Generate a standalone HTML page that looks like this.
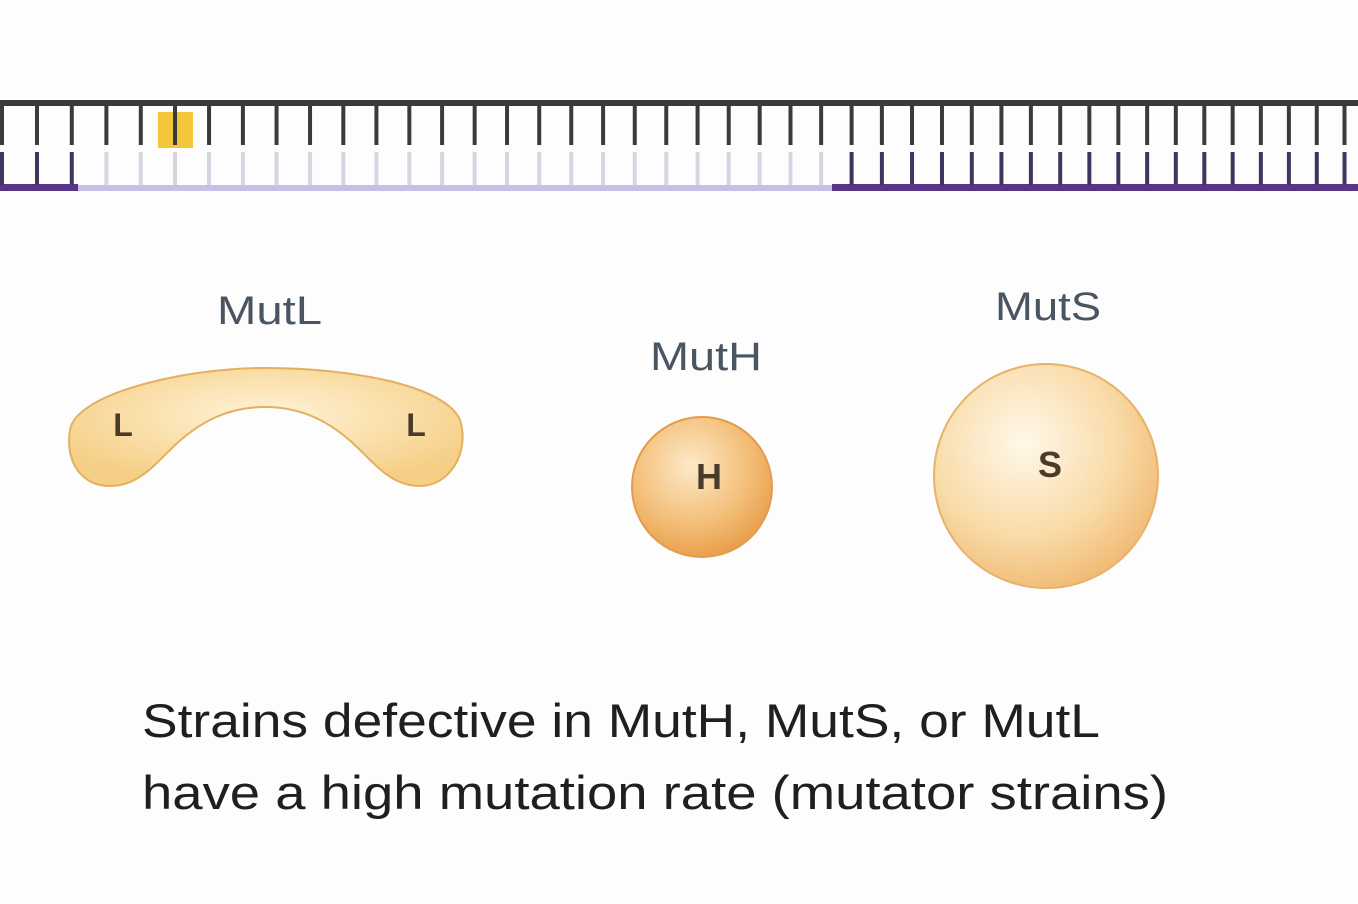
<!DOCTYPE html>
<html><head><meta charset="utf-8"><style>
body{margin:0;background:#fdfdfd;}
svg{display:block;}
text{font-family:"Liberation Sans",sans-serif;}
</style></head><body>
<svg width="1358" height="904" viewBox="0 0 1358 904">
<defs>
<radialGradient id="gL" cx="0.5" cy="0.4" r="0.6"><stop offset="0" stop-color="#fff3d8"/><stop offset="1" stop-color="#f6cf86"/></radialGradient>
<radialGradient id="gH" cx="0.42" cy="0.35" r="0.7"><stop offset="0" stop-color="#fde9c8"/><stop offset="0.6" stop-color="#f3be78"/><stop offset="1" stop-color="#e79a45"/></radialGradient>
<radialGradient id="gS" cx="0.4" cy="0.35" r="0.7"><stop offset="0" stop-color="#fff8ea"/><stop offset="0.6" stop-color="#f9dba8"/><stop offset="1" stop-color="#f0b870"/></radialGradient>
</defs>
<g id="dna">
<rect x="158" y="112" width="35" height="36" fill="#f3c73a"/>
<rect x="0" y="100" width="1358" height="6" fill="#3a3a3a"/>
<rect x="0" y="184" width="78" height="7" fill="#5a3486"/>
<rect x="78" y="185" width="754" height="6" fill="#c9bfe6"/>
<rect x="832" y="184" width="526" height="7" fill="#5a3486"/>
</g>
<path d="M70,430 C75,395 180,368 265,368 C350,368 445,385 460,420 C470,452 450,486 420,486 C395,486 380,470 360,450 C330,420 300,407 265,407 C230,407 200,420 170,450 C150,470 135,486 110,486 C80,486 65,460 70,430 Z" fill="url(#gL)" stroke="#e2b05e" stroke-width="2"/>
<text x="217" y="324" font-size="40" fill="#4a5562" textLength="105" lengthAdjust="spacingAndGlyphs">MutL</text>
<text x="123" y="436" font-size="32" font-weight="bold" fill="#4a3a2a" text-anchor="middle">L</text>
<text x="416" y="436" font-size="32" font-weight="bold" fill="#4a3a2a" text-anchor="middle">L</text>
<circle cx="702" cy="487" r="70" fill="url(#gH)" stroke="#e39c4c" stroke-width="2"/>
<text x="650" y="370" font-size="40" fill="#4a5562" textLength="112" lengthAdjust="spacingAndGlyphs">MutH</text>
<text x="709" y="489" font-size="36" font-weight="bold" fill="#4a3a2a" text-anchor="middle">H</text>
<circle cx="1046" cy="476" r="112" fill="url(#gS)" stroke="#e7b26a" stroke-width="2"/>
<text x="995" y="320" font-size="40" fill="#4a5562" textLength="106" lengthAdjust="spacingAndGlyphs">MutS</text>
<text x="1050" y="477" font-size="36" font-weight="bold" fill="#4a3a2a" text-anchor="middle">S</text>
<text x="142" y="737" font-size="47" fill="#1f1f1f" textLength="958" lengthAdjust="spacingAndGlyphs">Strains defective in MutH, MutS, or MutL</text>
<text x="142" y="809" font-size="47" fill="#1f1f1f" textLength="1026" lengthAdjust="spacingAndGlyphs">have a high mutation rate (mutator strains)</text>
</svg>
<script>
var g=document.getElementById('dna');var ns='http://www.w3.org/2000/svg';
var x=2;
while(x<1358){
 var t=document.createElementNS(ns,'rect');
 
 
 t.setAttribute('x',x-2);t.setAttribute('y',105);t.setAttribute('width',4);t.setAttribute('height',40);t.setAttribute('fill','#3a3a3a');g.appendChild(t);
 var b=document.createElementNS(ns,'rect');
 
 
 var light=(x>78&&x<830);
 b.setAttribute('x',x-2);b.setAttribute('y',152);b.setAttribute('width',4);b.setAttribute('height',33);b.setAttribute('fill',light?'#d6d6e2':'#3f3560');g.appendChild(b);
 x+=35-7.5*(x/1358);
}
</script>
</body></html>
